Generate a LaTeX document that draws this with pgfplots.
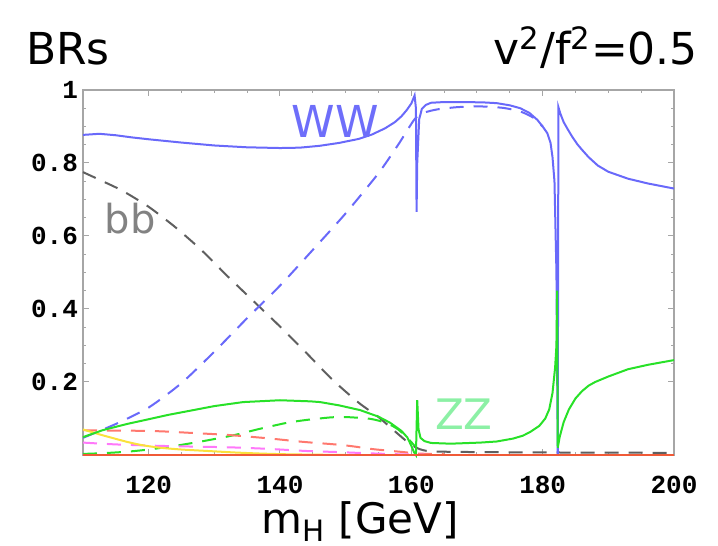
\documentclass[border=0pt]{standalone}
\usepackage{fontspec}
\setmainfont{DejaVu Sans}
\newfontfamily\tickfont{Liberation Mono}
\usepackage{pgfplots}
\pgfplotsset{compat=1.18}
\definecolor{brWW}{RGB}{105,105,250}
\definecolor{brBB}{RGB}{95,95,95}
\definecolor{brZZ}{RGB}{40,225,40}
\definecolor{brRed}{RGB}{255,120,110}
\definecolor{brMag}{RGB}{255,120,250}
\definecolor{brYel}{RGB}{250,225,60}
\definecolor{brBot}{RGB}{240,90,55}
\definecolor{lblWW}{RGB}{110,110,250}
\definecolor{lblBB}{RGB}{130,130,130}
\definecolor{lblZZ}{RGB}{140,240,165}
\begin{document}
\begin{tikzpicture}
\useasboundingbox (-41.5pt,-45.5pt) rectangle (317.5pt,227.5pt);
\begin{axis}[
  width=295.5pt, height=182.5pt, scale only axis,
  xmin=110, xmax=200, ymin=0, ymax=1,
  xtick={120,140,160,180,200}, xticklabels={120,140,160,180,200},
  ytick={0.2,0.4,0.6,0.8,1}, yticklabels={0.2,0.4,0.6,0.8,1},
  minor x tick num=3, minor y tick num=3,
  xtick pos=both, ytick pos=both,
  tick align=inside,
  major tick length=2.8pt, minor tick length=1.5pt,
  tick style={black!35, line width=0.5pt},
  axis line style={black!35, line width=0.7pt},
  ticklabel style={font=\tickfont\bfseries\fontsize{13}{13}\selectfont},
  xticklabel style={yshift=-7pt},
  yticklabel style={xshift=1pt},
  clip=false,
  every axis plot/.append style={line width=1pt},
  dashp/.style={dash pattern=on 7pt off 5pt, smooth, tension=0.4},
]
% SM-like dashed curves
\addplot[brBB, dashp] coordinates {(110,0.775) (113,0.75) (116,0.724) (120,0.68) (124,0.625) (128,0.562) (132,0.49) (136,0.421) (140,0.352) (144,0.28) (148,0.206) (152,0.143) (155,0.104) (157.3,0.068) (159.4,0.036) (161,0.018) (163,0.01) (170,0.008) (180,0.007) (200,0.006)};
\addplot[brWW, dashp] coordinates {(110,0.047) (115,0.085) (120,0.13) (125,0.197) (130,0.283) (135,0.375) (140,0.464) (145,0.562) (150,0.662) (155,0.772) (158,0.85) (160.5,0.92) (162,0.938) (164,0.947) (167,0.953) (170.5,0.955) (174,0.951) (176.6,0.941) (178.5,0.925) (180,0.9)};
\addplot[brZZ, dashp] coordinates {(110,0.003) (113,0.005) (116.7,0.009) (120,0.015) (124,0.025) (128.3,0.038) (132.9,0.054) (137,0.072) (141,0.088) (144,0.096) (147.7,0.103) (150,0.104) (153.8,0.099) (156.3,0.087) (158,0.07) (159.5,0.045) (160.5,0.025)};
\addplot[brRed, dashp] coordinates {(110,0.068) (112.6,0.067) (116,0.067) (121.7,0.065) (126,0.061) (132,0.055) (138,0.046) (143.5,0.036) (148.4,0.029) (151,0.024) (154.2,0.016) (158.8,0.008) (161,0.004) (165,0.002)};
\addplot[brMag, dashp] coordinates {(110,0.034) (115,0.029) (121.7,0.025) (127,0.023) (132.4,0.021) (138,0.017) (144,0.011) (148.9,0.008) (153,0.005) (158,0.002) (162,0.001)};
% solid curves
\addplot[brYel, smooth, tension=0.4] coordinates {(110,0.07) (111.5,0.062) (113,0.054) (116.7,0.036) (119,0.027) (121.7,0.02) (125,0.015) (129,0.011) (133,0.007) (137,0.004) (141,0.002) (145,0.001) (150,0.0)};
\addplot[brWW] coordinates {(110,0.877) (112.5,0.88) (115,0.876) (117.5,0.87) (120,0.865) (125,0.856) (130,0.848) (135,0.843) (140,0.841) (143,0.842) (146,0.847) (149,0.855) (152,0.866) (154,0.878) (156,0.895) (157.5,0.912) (158.5,0.928) (159.3,0.945) (160,0.963) (160.5,0.985) (160.7,0.95) (160.8,0.666) (160.9,0.8) (161.2,0.92) (161.6,0.948) (162.2,0.959) (163,0.965) (165,0.967) (168,0.967) (171,0.966) (173,0.964) (175,0.958) (176.6,0.95) (178,0.937) (179.2,0.918) (180,0.9) (180.7,0.882) (181.2,0.855) (181.5,0.816) (181.8,0.75) (182.1,0.5) (182.3,0.0) (182.4,0.953) (182.7,0.935) (183.2,0.912) (183.8,0.893) (184.5,0.872) (185.3,0.851) (186,0.836) (187,0.816) (188.4,0.793) (190,0.776) (193,0.757) (196,0.744) (200,0.73)};
\addplot[brZZ] coordinates {(110,0.049) (113,0.068) (116.7,0.085) (120,0.098) (123,0.11) (126.8,0.123) (130,0.134) (134.4,0.145) (140,0.15) (144.6,0.147) (146.1,0.145) (149,0.136) (152.2,0.123) (155,0.105) (156.8,0.088) (158.5,0.066) (159.4,0.048) (160,0.025) (160.4,0.008) (160.7,0.0) (160.9,0.15) (161.1,0.07) (161.4,0.047) (162,0.038) (163,0.033) (166,0.031) (170.5,0.034) (173,0.037) (175.5,0.045) (177,0.053) (178.1,0.063) (179.5,0.08) (180.4,0.1) (181,0.125) (181.5,0.17) (181.9,0.24) (182.1,0.3) (182.2,0.45) (182.3,0.02) (182.6,0.05) (183.2,0.09) (184,0.125) (185,0.155) (186,0.175) (187,0.19) (188,0.2) (190,0.215) (193,0.235) (196,0.247) (200,0.26)};
\addplot[brBot] coordinates {(110,0.001) (200,0.001)};
% curve labels
\node[lblWW, font=\fontsize{22}{22}\selectfont] at (axis cs:148.4,0.913) {WW};
\node[lblBB, font=\fontsize{20}{20}\selectfont] at (axis cs:117.2,0.649) {bb};
\node[lblZZ, font=\fontsize{21}{21}\selectfont] at (axis cs:168.0,0.112) {ZZ};
\end{axis}
\node[anchor=base west, font=\fontsize{22}{22}\selectfont] at (-32pt,195pt) {BRs};
\node[anchor=base east, font=\fontsize{22}{22}\selectfont] at (311pt,195pt) {v\textsuperscript{2}/f\textsuperscript{2}=0.5};
\node[anchor=base, font=\fontsize{21}{21}\selectfont] at (138.5pt,-39.5pt) {m\textsubscript{H} [GeV]};
\end{tikzpicture}
\end{document}
